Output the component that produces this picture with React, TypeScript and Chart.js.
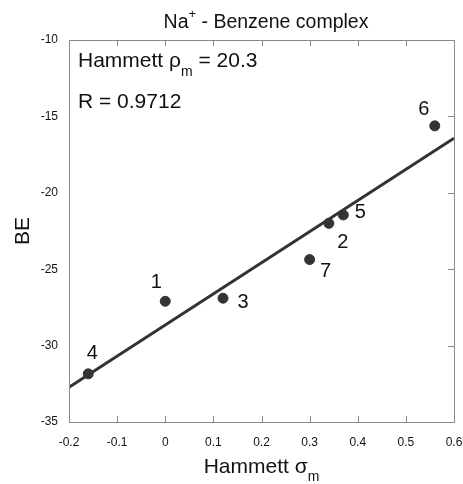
import React, { useEffect, useRef } from "react";
import { Chart, registerables } from "chart.js";

Chart.register(...registerables);

const sigmaM = [0, 0.34, 0.12, -0.16, 0.37, 0.56, 0.3];
const bindingEnergy = [-27.1, -22.0, -26.9, -31.85, -21.45, -15.62, -24.37];
const pointLabels = ["1", "2", "3", "4", "5", "6", "7"];
const fitX = [-0.2, 0.6];
const fitY = [-32.72, -16.43];
const xTicks = [-0.2, -0.1, 0, 0.1, 0.2, 0.3, 0.4, 0.5, 0.6];
const yTicks = [-35, -30, -25, -20, -15, -10];
const rhoText = "20.3";
const rText = "R = 0.9712";

const labelOffsets = [
  [-9, -19],
  [14, 19],
  [20, 4],
  [4, -20],
  [17, -2],
  [-11, -16],
  [16, 12],
];

const FONT = "'Liberation Sans', Arial, sans-serif";

const overlay = {
  id: "overlay",
  afterDraw(chart: any) {
    const ctx = chart.ctx as CanvasRenderingContext2D;
    const { left, right, top, bottom } = chart.chartArea;
    const xs = chart.scales.x;
    const ys = chart.scales.y;
    ctx.save();
    ctx.strokeStyle = "#8a8a8a";
    ctx.lineWidth = 1;
    ctx.strokeRect(left + 0.5, top + 0.5, right - left, bottom - top);
    ctx.beginPath();
    for (const v of xTicks) {
      const px = Math.round(xs.getPixelForValue(v)) + 0.5;
      ctx.moveTo(px, bottom);
      ctx.lineTo(px, bottom - 6);
      ctx.moveTo(px, top);
      ctx.lineTo(px, top + 6);
    }
    for (const v of yTicks) {
      const py = Math.round(ys.getPixelForValue(v)) + 0.5;
      ctx.moveTo(right, py);
      ctx.lineTo(right - 6, py);
    }
    ctx.stroke();

    ctx.fillStyle = "#111";
    ctx.font = `20px ${FONT}`;
    ctx.textAlign = "center";
    ctx.textBaseline = "middle";
    const meta = chart.getDatasetMeta(0);
    meta.data.forEach((el: any, i: number) => {
      const [dx, dy] = labelOffsets[i];
      ctx.fillText(pointLabels[i], el.x + dx, el.y + dy);
    });

    ctx.textAlign = "left";
    ctx.textBaseline = "alphabetic";
    const t1 = "Na";
    const t2 = "+";
    const t3 = " - Benzene complex";
    ctx.font = `19.5px ${FONT}`;
    const w1 = ctx.measureText(t1).width;
    const w3 = ctx.measureText(t3).width;
    ctx.font = `13px ${FONT}`;
    const w2 = ctx.measureText(t2).width;
    let tx = 266 - (w1 + w2 + w3) / 2;
    ctx.font = `19.5px ${FONT}`;
    ctx.fillText(t1, tx, 28);
    tx += w1;
    ctx.font = `13px ${FONT}`;
    ctx.fillText(t2, tx, 18);
    tx += w2;
    ctx.font = `19.5px ${FONT}`;
    ctx.fillText(t3, tx, 28);

    const a1 = "Hammett \u03c1";
    ctx.font = `21px ${FONT}`;
    ctx.fillText(a1, 78, 67);
    let ax = 78 + ctx.measureText(a1).width;
    ctx.font = `14px ${FONT}`;
    ctx.fillText("m", ax, 76);
    ax += ctx.measureText("m").width;
    ctx.font = `21px ${FONT}`;
    ctx.fillText(" = " + rhoText, ax, 67);
    ctx.fillText(rText, 78, 108);

    const x1 = "Hammett \u03c3";
    ctx.font = `21px ${FONT}`;
    const xw1 = ctx.measureText(x1).width;
    ctx.font = `14px ${FONT}`;
    const xw2 = ctx.measureText("m").width;
    const xx = (left + right) / 2 - (xw1 + xw2) / 2;
    ctx.font = `21px ${FONT}`;
    ctx.fillText(x1, xx, 473);
    ctx.font = `14px ${FONT}`;
    ctx.fillText("m", xx + xw1, 481);

    ctx.save();
    ctx.translate(29, (top + bottom) / 2);
    ctx.rotate(-Math.PI / 2);
    ctx.font = `21px ${FONT}`;
    ctx.textAlign = "center";
    ctx.fillText("BE", 0, 0);
    ctx.restore();

    ctx.restore();
  },
};

export default function App() {
  const ref = useRef<HTMLCanvasElement>(null);
  useEffect(() => {
    if (!ref.current) return;
    const chart = new Chart(ref.current, {
      type: "scatter",
      data: {
        datasets: [
          {
            label: "points",
            data: sigmaM.map((x, i) => ({ x, y: bindingEnergy[i] })),
            backgroundColor: "#333",
            borderColor: "#333",
            pointRadius: 5,
            pointHoverRadius: 5,
          },
          {
            label: "fit",
            type: "line",
            data: fitX.map((x, i) => ({ x, y: fitY[i] })),
            borderColor: "#333",
            borderWidth: 3,
            pointRadius: 0,
            showLine: true,
            fill: false,
          } as any,
        ],
      },
      options: {
        responsive: false,
        animation: false,
        events: [],
        layout: { padding: { left: 0, right: 9, top: 40, bottom: 0 } },
        plugins: {
          legend: { display: false },
          tooltip: { enabled: false },
          title: { display: false },
        },
        scales: {
          x: {
            type: "linear",
            min: -0.2,
            max: 0.6,
            afterFit: (s: any) => {
              s.height = 62;
              s.paddingLeft = 0;
              s.paddingRight = 0;
            },
            afterBuildTicks: (s: any) => {
              s.ticks = xTicks.map((v) => ({ value: v }));
            },
            ticks: {
              padding: 13,
              color: "#111",
              font: { family: FONT, size: 12 },
              callback: (v: any) => String(Math.round(Number(v) * 10) / 10),
            },
            grid: { display: false, drawTicks: false },
            border: { display: false },
          },
          y: {
            type: "linear",
            min: -35,
            max: -10,
            afterFit: (s: any) => {
              s.width = 69;
              s.paddingTop = 0;
              s.paddingBottom = 0;
            },
            afterBuildTicks: (s: any) => {
              s.ticks = yTicks.map((v) => ({ value: v }));
            },
            ticks: {
              padding: 11,
              color: "#111",
              font: { family: FONT, size: 12 },
            },
            grid: { display: false, drawTicks: false },
            border: { display: false },
          },
        },
      },
      plugins: [overlay],
    });
    return () => chart.destroy();
  }, []);
  return (
    <div style={{ position: "absolute", left: 0, top: 0, width: 463, height: 484, background: "#fff" }}>
      <canvas ref={ref} width={463} height={484} />
    </div>
  );
}
